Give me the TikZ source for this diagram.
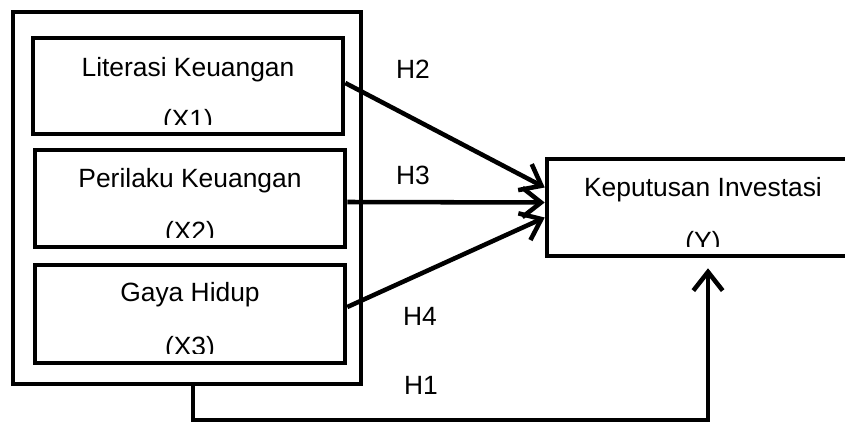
\documentclass[tikz,border=0pt]{standalone}
\usepackage{fontspec}
\setmainfont{Liberation Sans}
\usetikzlibrary{arrows.meta,calc}
\def\u{0.75pt}
\tikzset{
  box/.style={draw, line width=3.4pt, minimum width=#1, inner sep=0pt, rectangle},
  txt/.style={font=\fontsize{19.8}{24}\selectfont, inner sep=0pt, anchor=base},
  conn/.style={line width=3.4pt, -{Straight Barb[length=14pt,width=22pt,line width=3.4pt]}},
}
\begin{document}
\begin{tikzpicture}[x=0.75pt,y=-0.75pt]
\useasboundingbox (0,0) rectangle (845,423);
% boxes
\node[box=348*\u, minimum height=372*\u] (outer) at (187,198) {};
\node[box=310*\u, minimum height=96*\u] (x1) at (188,86) {};
\node[box=310*\u, minimum height=97*\u] (x2) at (190,198.5) {};
\node[box=310*\u, minimum height=98*\u] (x3) at (190,314) {};
\node[box=311*\u, minimum height=97*\u] (y) at (702.5,207.5) {};
% texts (clipped like the reference)
\begin{scope}
\clip (x1.north west) rectangle ($(x1.south east)+(0,-12)$);
\node[txt] (t1a) at (188,77) {Literasi Keuangan};
\node[txt] (t1b) at (188,129) {(X1)};
\end{scope}
\begin{scope}
\clip (x2.north west) rectangle ($(x2.south east)+(0,-12)$);
\node[txt] (t2a) at (190,188) {Perilaku Keuangan};
\node[txt] (t2b) at (190,241) {(X2)};
\end{scope}
\begin{scope}
\clip (x3.north west) rectangle ($(x3.south east)+(0,-12)$);
\node[txt] (t3a) at (190,302) {Gaya Hidup};
\node[txt] (t3b) at (190,356) {(X3)};
\end{scope}
\begin{scope}
\clip (y.north west) rectangle ($(y.south east)+(0,-12)$);
\node[txt] (tya) at (703,197) {Keputusan Investasi};
\node[txt] (tyb) at (703,251) {(Y)};
\end{scope}
% connectors
\draw[conn] ($(x1.east)+(0,-3)$) -- ($(y.west)+(0,-20)$);
\draw[conn] ($(x2.east)+(0,3.5)$) -- ($(y.west)+(0,-5)$);
\draw[conn] ($(x3.east)+(0,-7)$) -- ($(y.west)+(0,10)$);
\coordinate (h1a) at (193,420);
\coordinate (h1b) at (708,420);
\draw[conn] (outer.south -| h1a) -- (h1a) -- (h1b) -- ($(y.south -| h1b)+(0,10)$);
% labels
\node[txt] (h2) at (413,79) {H2};
\node[txt] (h3) at (413,185) {H3};
\node[txt] (h4) at (420,326) {H4};
\node[txt] (h1) at (421,394) {H1};
\end{tikzpicture}
\end{document}
